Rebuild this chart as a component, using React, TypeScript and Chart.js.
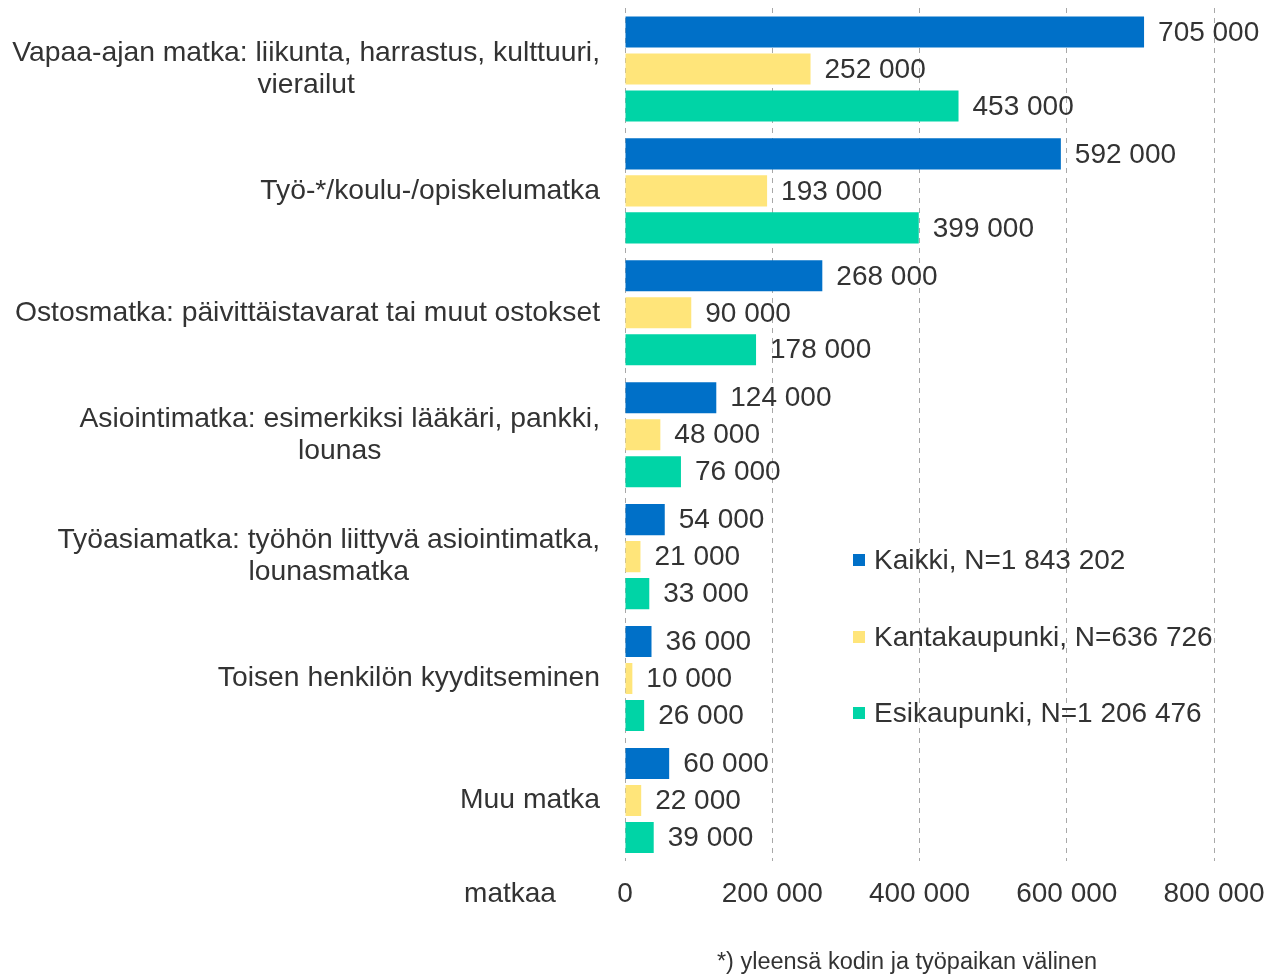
import React, { useEffect, useRef } from "react";
import { Chart, registerables } from "chart.js";

Chart.register(...registerables);

const categories: string[][] = [
  ["Vapaa-ajan matka: liikunta, harrastus, kulttuuri,", "vierailut"],
  ["Työ-*/koulu-/opiskelumatka"],
  ["Ostosmatka: päivittäistavarat tai muut ostokset"],
  ["Asiointimatka: esimerkiksi lääkäri, pankki,", "lounas"],
  ["Työasiamatka: työhön liittyvä asiointimatka,", "lounasmatka"],
  ["Toisen henkilön kyyditseminen"],
  ["Muu matka"],
];

const seriesNames = ["Kaikki, N=1 843 202", "Kantakaupunki, N=636 726", "Esikaupunki, N=1 206 476"];
const kaikki = [705000, 592000, 268000, 124000, 54000, 36000, 60000];
const kantakaupunki = [252000, 193000, 90000, 48000, 21000, 10000, 22000];
const esikaupunki = [453000, 399000, 178000, 76000, 33000, 26000, 39000];
const seriesColors = ["#0070C8", "#FFE57A", "#00D4A6"];
const xTicks = [0, 200000, 400000, 600000, 800000];
const axisUnit = "matkaa";
const footnote = "*) yleensä kodin ja työpaikan välinen";

const FONT = "'Liberation Sans', Arial, sans-serif";
const TEXT = "#333333";

const fmt = (v: number) => String(v).replace(/\B(?=(\d{3})+(?!\d))/g, " ");

const customPlugin = {
  id: "custom",
  afterDatasetsDraw(chart: any) {
    const ctx = chart.ctx;
    ctx.save();
    // data labels
    ctx.font = `28px ${FONT}`;
    ctx.fillStyle = TEXT;
    ctx.textBaseline = "middle";
    ctx.textAlign = "left";
    chart.data.datasets.forEach((ds: any, di: number) => {
      const meta = chart.getDatasetMeta(di);
      meta.data.forEach((el: any, i: number) => {
        ctx.fillText(fmt(ds.data[i]), el.x + 14, el.y + 1);
      });
    });
    // category labels
    ctx.font = `28.3px ${FONT}`;
    const yScale = chart.scales.y;
    const right = chart.chartArea.left - 25;
    const lh = 32;
    categories.forEach((lines, i) => {
      const cy = yScale.getPixelForValue(i);
      const maxW = Math.max(...lines.map((l) => ctx.measureText(l).width));
      const cx = right - maxW / 2;
      ctx.textAlign = "center";
      const startY = cy - ((lines.length - 1) * lh) / 2;
      lines.forEach((l, k) => ctx.fillText(l, cx, startY + k * lh));
    });
    // unit label
    ctx.font = `28px ${FONT}`;
    ctx.textAlign = "center";
    ctx.fillText(axisUnit, 510, 894);
    // legend
    const ly = [560, 637, 713];
    seriesNames.forEach((n, i) => {
      ctx.fillStyle = seriesColors[i];
      ctx.fillRect(853, ly[i] - 6, 12, 12);
      ctx.fillStyle = TEXT;
      ctx.textAlign = "left";
      ctx.fillText(n, 874, ly[i] + 1);
    });
    // footnote
    ctx.font = `23.5px ${FONT}`;
    ctx.textAlign = "center";
    ctx.fillText(footnote, 907, 963);
    ctx.restore();
  },
};

export default function App() {
  const ref = useRef<HTMLCanvasElement>(null);
  useEffect(() => {
    if (!ref.current) return;
    const chart = new Chart(ref.current, {
      type: "bar",
      data: {
        labels: categories.map((c) => c.join(" ")),
        datasets: [
          { label: seriesNames[0], data: kaikki, backgroundColor: seriesColors[0] },
          { label: seriesNames[1], data: kantakaupunki, backgroundColor: seriesColors[1] },
          { label: seriesNames[2], data: esikaupunki, backgroundColor: seriesColors[2] },
        ],
      },
      options: {
        indexAxis: "y",
        responsive: false,
        animation: false,
        layout: { padding: { left: 625, right: 62, top: 8, bottom: 49 } },
        datasets: { bar: { categoryPercentage: 0.91, barPercentage: 0.84 } },
        plugins: { legend: { display: false }, tooltip: { enabled: false } },
        scales: {
          y: { display: false },
          x: {
            min: 0,
            max: 800000,
            afterBuildTicks: (s: any) => {
              s.ticks = xTicks.map((v) => ({ value: v }));
            },
            afterFit: (s: any) => {
              s.paddingLeft = 0;
              s.paddingRight = 0;
            },
            border: { display: false, dash: [5, 5] },
            grid: { color: "#a8a8a8", lineWidth: 1, drawTicks: false },
            ticks: {
              padding: 16,
              color: TEXT,
              font: { family: FONT, size: 28 },
              callback: (v: any) => fmt(Number(v)),
            },
          },
        },
      },
      plugins: [customPlugin],
    } as any);
    return () => chart.destroy();
  }, []);
  return (
    <div style={{ position: "absolute", left: 0, top: 0, width: 1276, height: 976, background: "#fff" }}>
      <canvas ref={ref} width={1276} height={976} />
    </div>
  );
}
